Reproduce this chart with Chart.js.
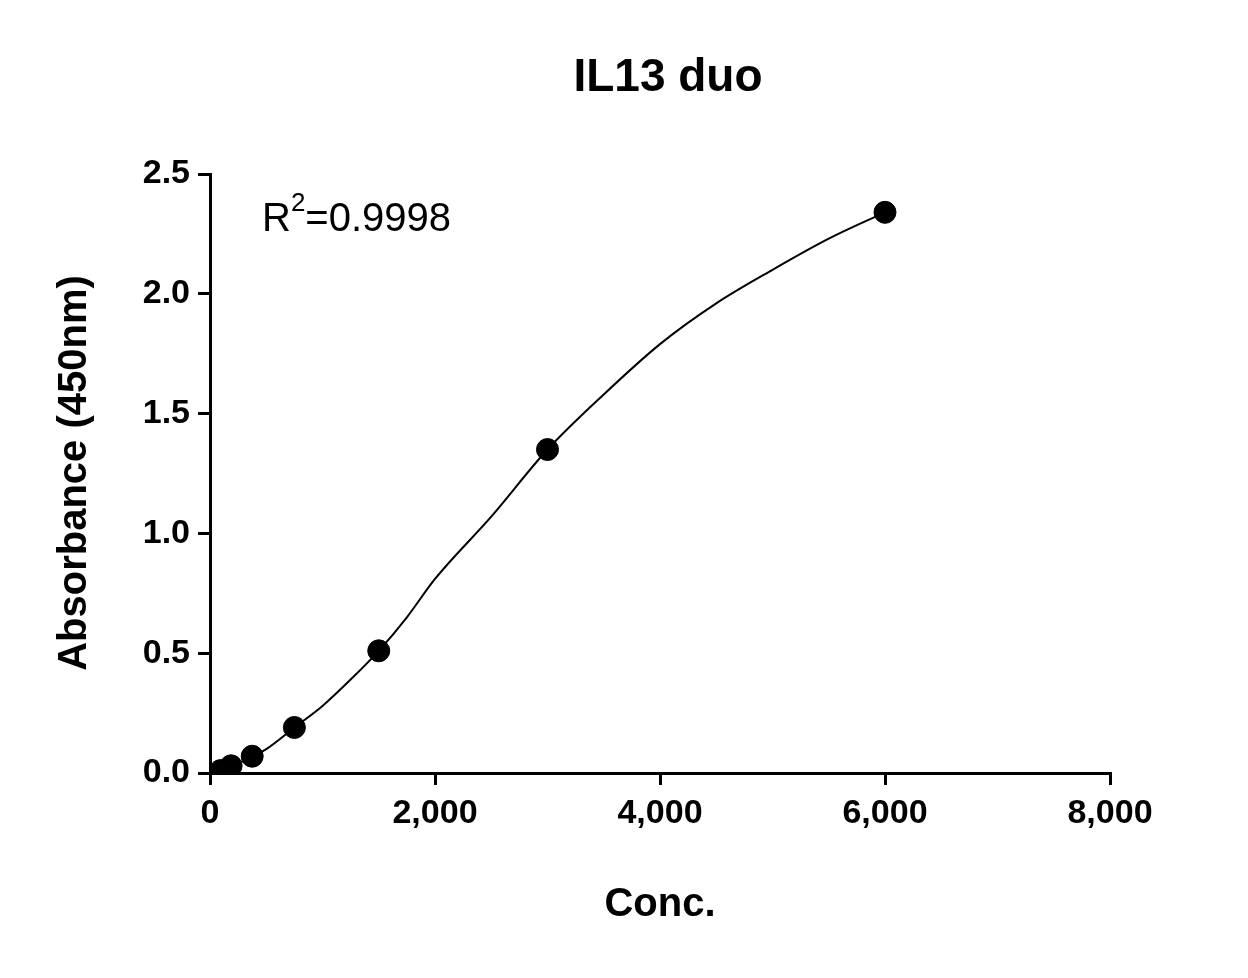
<!DOCTYPE html>
<html><head><meta charset="utf-8">
<script src="https://cdn.jsdelivr.net/npm/chart.js@4"></script>
<style>html,body{margin:0;padding:0;background:#fff}</style>
</head><body>
<canvas id="c" width="1248" height="978"></canvas>
<script>
const concX = [93.75, 187.5, 375, 750, 1500, 3000, 6000];
const absY = [0.01, 0.03, 0.07, 0.19, 0.51, 1.35, 2.34];
const fitX = [50, 100, 250, 500, 750, 1000, 1250, 1500, 1750, 2000, 2500, 3000, 3500, 4000, 4500, 5000, 5500, 6000];
const fitY = [0.005, 0.01, 0.04, 0.10, 0.19, 0.28, 0.39, 0.51, 0.65, 0.81, 1.07, 1.35, 1.58, 1.79, 1.96, 2.10, 2.23, 2.34];
const xTicks = [0, 2000, 4000, 6000, 8000];
const yTicks = [0, 0.5, 1.0, 1.5, 2.0, 2.5];
const F = 'Arial, "Liberation Sans", sans-serif';

const textPlugin = {
  id: 'txt',
  afterDraw(ch) {
    const c = ch.ctx; c.save(); c.fillStyle = '#000';
    c.textAlign = 'center'; c.textBaseline = 'middle';
    c.font = 'bold 46px ' + F; c.fillText('IL13 duo', 668, 78);
    c.font = 'bold 40px ' + F; c.fillText('Conc.', 660, 905);
    c.save(); c.translate(75, 473); c.rotate(-Math.PI/2);
    c.fillText('Absorbance (450nm)', 0, 0); c.restore();
    c.textAlign = 'left'; c.textBaseline = 'alphabetic';
    c.font = '40px ' + F; c.fillText('R', 262, 231);
    const w = c.measureText('R').width;
    c.font = '26px ' + F; c.fillText('2', 262 + w, 211);
    const w2 = c.measureText('2').width;
    c.font = '40px ' + F; c.fillText('=0.9998', 262 + w + w2, 231);
    c.restore();
  }
};

new Chart(document.getElementById('c'), {
  type: 'scatter',
  data: { datasets: [
    { data: fitX.map((x,i)=>({x, y: fitY[i]})), showLine: true, borderColor: '#000', borderWidth: 2, pointRadius: 0, cubicInterpolationMode: 'monotone', order: 2 },
    { data: concX.map((x,i)=>({x, y: absY[i]})), pointRadius: 11, pointHoverRadius: 11, backgroundColor: '#000', borderColor: '#000', order: 1 }
  ]},
  options: {
    responsive: false, animation: false, devicePixelRatio: 1,
    layout: { padding: { left: 0, right: 138, top: 174, bottom: 0 } },
    plugins: { legend: { display: false }, tooltip: { enabled: false } },
    scales: {
      x: { type: 'linear', min: 0, max: 8000,
        afterFit(s){ s.height = 205; },
        afterBuildTicks(s){ s.ticks = xTicks.map(v=>({value:v})); },
        border: { color: '#000', width: 3 },
        grid: { drawOnChartArea: false, drawTicks: true, tickLength: 12, color: '#000', lineWidth: 3 },
        ticks: { color: '#000', font: { family: F, size: 34, weight: 'bold' }, padding: 8, maxRotation: 0 } },
      y: { min: 0, max: 2.5,
        afterFit(s){ s.width = 210; },
        afterBuildTicks(s){ s.ticks = yTicks.map(v=>({value:v})); },
        border: { color: '#000', width: 3 },
        grid: { drawOnChartArea: false, drawTicks: true, tickLength: 12, color: '#000', lineWidth: 3 },
        ticks: { color: '#000', font: { family: F, size: 34, weight: 'bold' }, padding: 8, callback: v => v.toFixed(1) } }
    }
  },
  plugins: [textPlugin]
});
</script>
</body></html>
